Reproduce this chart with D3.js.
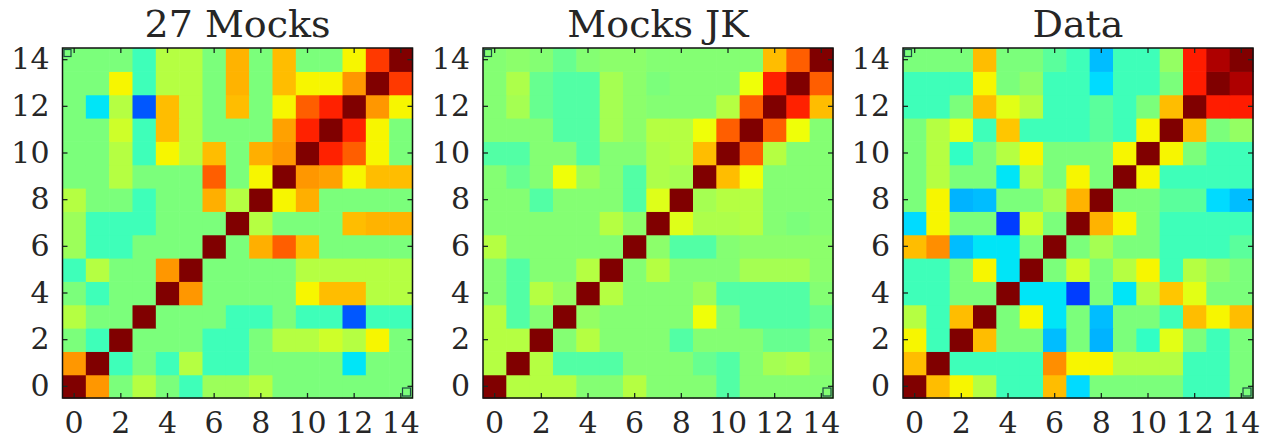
<!DOCTYPE html>
<html>
<head>
<meta charset="utf-8">
<script src="https://cdn.jsdelivr.net/npm/d3@7"></script>
<style>
  html, body { margin: 0; padding: 0; background: #fff; }
  svg { display: block; }
  text { font-family: "DejaVu Serif", serif; fill: #262626; }
</style>
</head>
<body>
<svg id="chart" width="1270" height="441"></svg>
<script>
// Bin indices and tick labels shared by all three correlation matrices
const bins = d3.range(15);
const tickValues = [0, 2, 4, 6, 8, 10, 12, 14];
const titles = ["27 Mocks", "Mocks JK", "Data"];

// Correlation matrices stored as lower triangles (row i holds columns 0..i)
const mocks27 = [
  [1],
  [0.5, 1],
  [0, -0.15, 1],
  [0.14, 0, 0, 1],
  [0, -0.15, 0, 0, 1],
  [-0.15, 0.14, 0, 0, 0.5, 1],
  [0.08, -0.15, -0.15, 0, 0, 0, 1],
  [0.08, -0.15, -0.15, -0.15, 0, 0, 0, 1],
  [0.14, 0, 0, -0.15, 0, 0, 0.45, 0.14, 1],
  [0, 0, 0.14, 0, 0, 0, 0.62, 0, 0.3, 1],
  [0, 0, 0.14, -0.15, 0.3, 0.14, 0.42, 0, 0.45, 0.5, 1],
  [0, 0, 0.2, -0.15, 0.42, 0.14, 0, 0, 0, 0.48, 0.75, 1],
  [0, -0.3, 0.14, -0.58, 0.42, 0.14, 0, 0.42, 0, 0.3, 0.62, 0.75, 1],
  [0, 0, 0.3, -0.15, 0.14, 0.14, 0, 0.44, 0, 0.42, 0.3, 0.3, 0.5, 1],
  [0, 0, 0, -0.15, 0.14, 0.14, 0, 0.44, 0, 0.42, 0, 0, 0.3, 0.7, 1]
];

const mocksJK = [
  [1],
  [0.14, 1],
  [0.14, 0.14, 1],
  [0.14, -0.1, 0.02, 1],
  [0.02, -0.1, 0.14, 0.06, 1],
  [0.02, -0.1, 0.02, 0.02, 0.14, 1],
  [0.14, 0.02, 0.02, 0.02, 0.02, 0.02, 1],
  [0.02, 0.02, 0.02, 0.02, 0.02, 0.14, 0.04, 1],
  [0.02, 0.02, -0.1, 0.02, 0.02, 0.02, -0.1, 0.24, 1],
  [0.02, -0.05, 0.02, 0.28, 0.08, 0.02, -0.1, 0.12, 0.1, 1],
  [-0.1, -0.1, 0.02, 0.02, -0.1, 0.02, 0.02, 0.12, 0.14, 0.42, 1],
  [0.02, 0.02, 0.02, -0.1, -0.1, 0.1, 0.04, 0.14, 0.14, 0.28, 0.62, 1],
  [0.02, 0.1, -0.05, -0.1, -0.1, 0.1, 0.04, 0.02, 0.02, 0.02, 0.14, 0.62, 1],
  [0.02, 0.12, -0.05, -0.1, -0.1, 0.1, 0.04, 0.0, 0.02, 0.02, 0.02, 0.28, 0.75, 1],
  [0.02, 0.04, 0.02, -0.05, 0.02, 0.04, 0.04, 0.02, 0.02, 0.02, 0.02, 0.02, 0.42, 0.62, 1]
];

const dataCorr = [
  [1],
  [0.42, 1],
  [0.3, -0.15, 1],
  [0.14, -0.15, 0.42, 1],
  [-0.15, -0.15, 0, 0, 1],
  [-0.15, -0.15, 0, 0.3, -0.3, 1],
  [0.42, 0.52, -0.38, -0.3, -0.3, 0, 1],
  [-0.32, 0.3, 0, 0, -0.63, 0.2, 0, 1],
  [0, 0.3, -0.4, -0.38, 0, 0, 0.1, 0.44, 1],
  [0, 0.14, 0, 0, -0.3, 0.14, 0, 0.3, 0, 1],
  [0, 0.14, -0.18, 0, 0.14, 0.3, 0, 0, 0, 0.3, 1],
  [0, 0.14, 0.25, -0.15, 0.4, -0.15, -0.15, -0.15, -0.08, -0.15, 0.3, 1],
  [-0.15, -0.15, 0, 0.42, 0.25, 0.14, -0.15, -0.15, -0.08, -0.15, 0, 0.42, 1],
  [-0.15, -0.15, -0.15, 0.3, 0, 0.05, -0.15, -0.15, -0.32, -0.15, -0.15, 0, 0.76, 1],
  [0, 0, 0, 0.42, 0, 0, -0.08, -0.15, -0.38, -0.15, -0.15, 0.06, 0.76, 0.92, 1]
];

const matrices = [mocks27, mocksJK, dataCorr];

// matplotlib "jet" colormap, piecewise linear
const jetSegments = {
  r: [[0, 0], [0.35, 0], [0.66, 1], [0.89, 1], [1, 0.5]],
  g: [[0, 0], [0.125, 0], [0.375, 1], [0.64, 1], [0.91, 0], [1, 0]],
  b: [[0, 0.5], [0.11, 1], [0.34, 1], [0.65, 0], [1, 0]]
};
function channel(seg, t) {
  for (let i = 1; i < seg.length; i++) {
    if (t <= seg[i][0]) {
      const [x0, y0] = seg[i - 1], [x1, y1] = seg[i];
      return y0 + (y1 - y0) * (t - x0) / (x1 - x0);
    }
  }
  return seg[seg.length - 1][1];
}
function jet(t) {
  t = Math.max(0, Math.min(1, t));
  const c = ["r", "g", "b"].map(k => Math.round(255 * channel(jetSegments[k], t)));
  return `rgb(${c[0]},${c[1]},${c[2]})`;
}
const norm = d3.scaleLinear().domain([-1, 1]).range([0, 1]).clamp(true);
const color = v => jet(norm(v));

function fullMatrix(lower) {
  const cells = [];
  bins.forEach(i => bins.forEach(j => {
    const v = j <= i ? lower[i][j] : lower[j][i];
    cells.push({ row: i, col: j, value: v });
  }));
  return cells;
}

const svg = d3.select("#chart");
const size = 350;
const panelX = [62.5, 483, 903];
const panelY = 48;

matrices.forEach((m, k) => {
  const g = svg.append("g").attr("transform", `translate(${panelX[k]},${panelY})`);
  const x = d3.scaleBand().domain(bins).range([0, size]);
  const y = d3.scaleBand().domain(bins).range([size, 0]);

  g.selectAll("rect.cell")
    .data(fullMatrix(m))
    .join("rect")
    .attr("class", "cell")
    .attr("x", d => x(d.col))
    .attr("y", d => y(d.row))
    .attr("width", x.bandwidth() + 0.6)
    .attr("height", y.bandwidth() + 0.6)
    .attr("fill", d => color(d.value));

  // small corner markers
  g.append("rect").attr("x", 1.5).attr("y", 1.5).attr("width", 7).attr("height", 7)
    .attr("fill", "none").attr("stroke", "#1d4d44").attr("stroke-width", 1.2);
  g.append("rect").attr("x", size - 10).attr("y", size - 10).attr("width", 8).attr("height", 8)
    .attr("fill", "none").attr("stroke", "#1d4d44").attr("stroke-width", 1.2);

  const styleAxis = sel => {
    sel.select(".domain").remove();
    sel.selectAll(".tick line").attr("stroke", "#1a2a22").attr("stroke-width", 1.3);
    sel.selectAll("text").style("font-family", "'DejaVu Serif', serif").style("font-size", "30px").attr("fill", "#262626");
  };

  g.append("g").attr("transform", `translate(0,${size})`)
    .call(d3.axisBottom(x).tickValues(tickValues).tickSize(-5).tickPadding(14))
    .call(styleAxis);
  g.append("g")
    .call(d3.axisLeft(y).tickValues(tickValues).tickSize(-5).tickPadding(13))
    .call(styleAxis);
  g.append("g")
    .call(d3.axisTop(x).tickValues(tickValues).tickSize(-5).tickFormat(""))
    .call(styleAxis);
  g.append("g").attr("transform", `translate(${size},0)`)
    .call(d3.axisRight(y).tickValues(tickValues).tickSize(-5).tickFormat(""))
    .call(styleAxis);

  g.append("rect").attr("width", size).attr("height", size)
    .attr("fill", "none").attr("stroke", "#111").attr("stroke-width", 1.5);

  g.append("text")
    .attr("x", size / 2).attr("y", -11.5)
    .attr("text-anchor", "middle")
    .style("font-size", "38px")
    .text(titles[k]);
});
</script>
</body>
</html>
